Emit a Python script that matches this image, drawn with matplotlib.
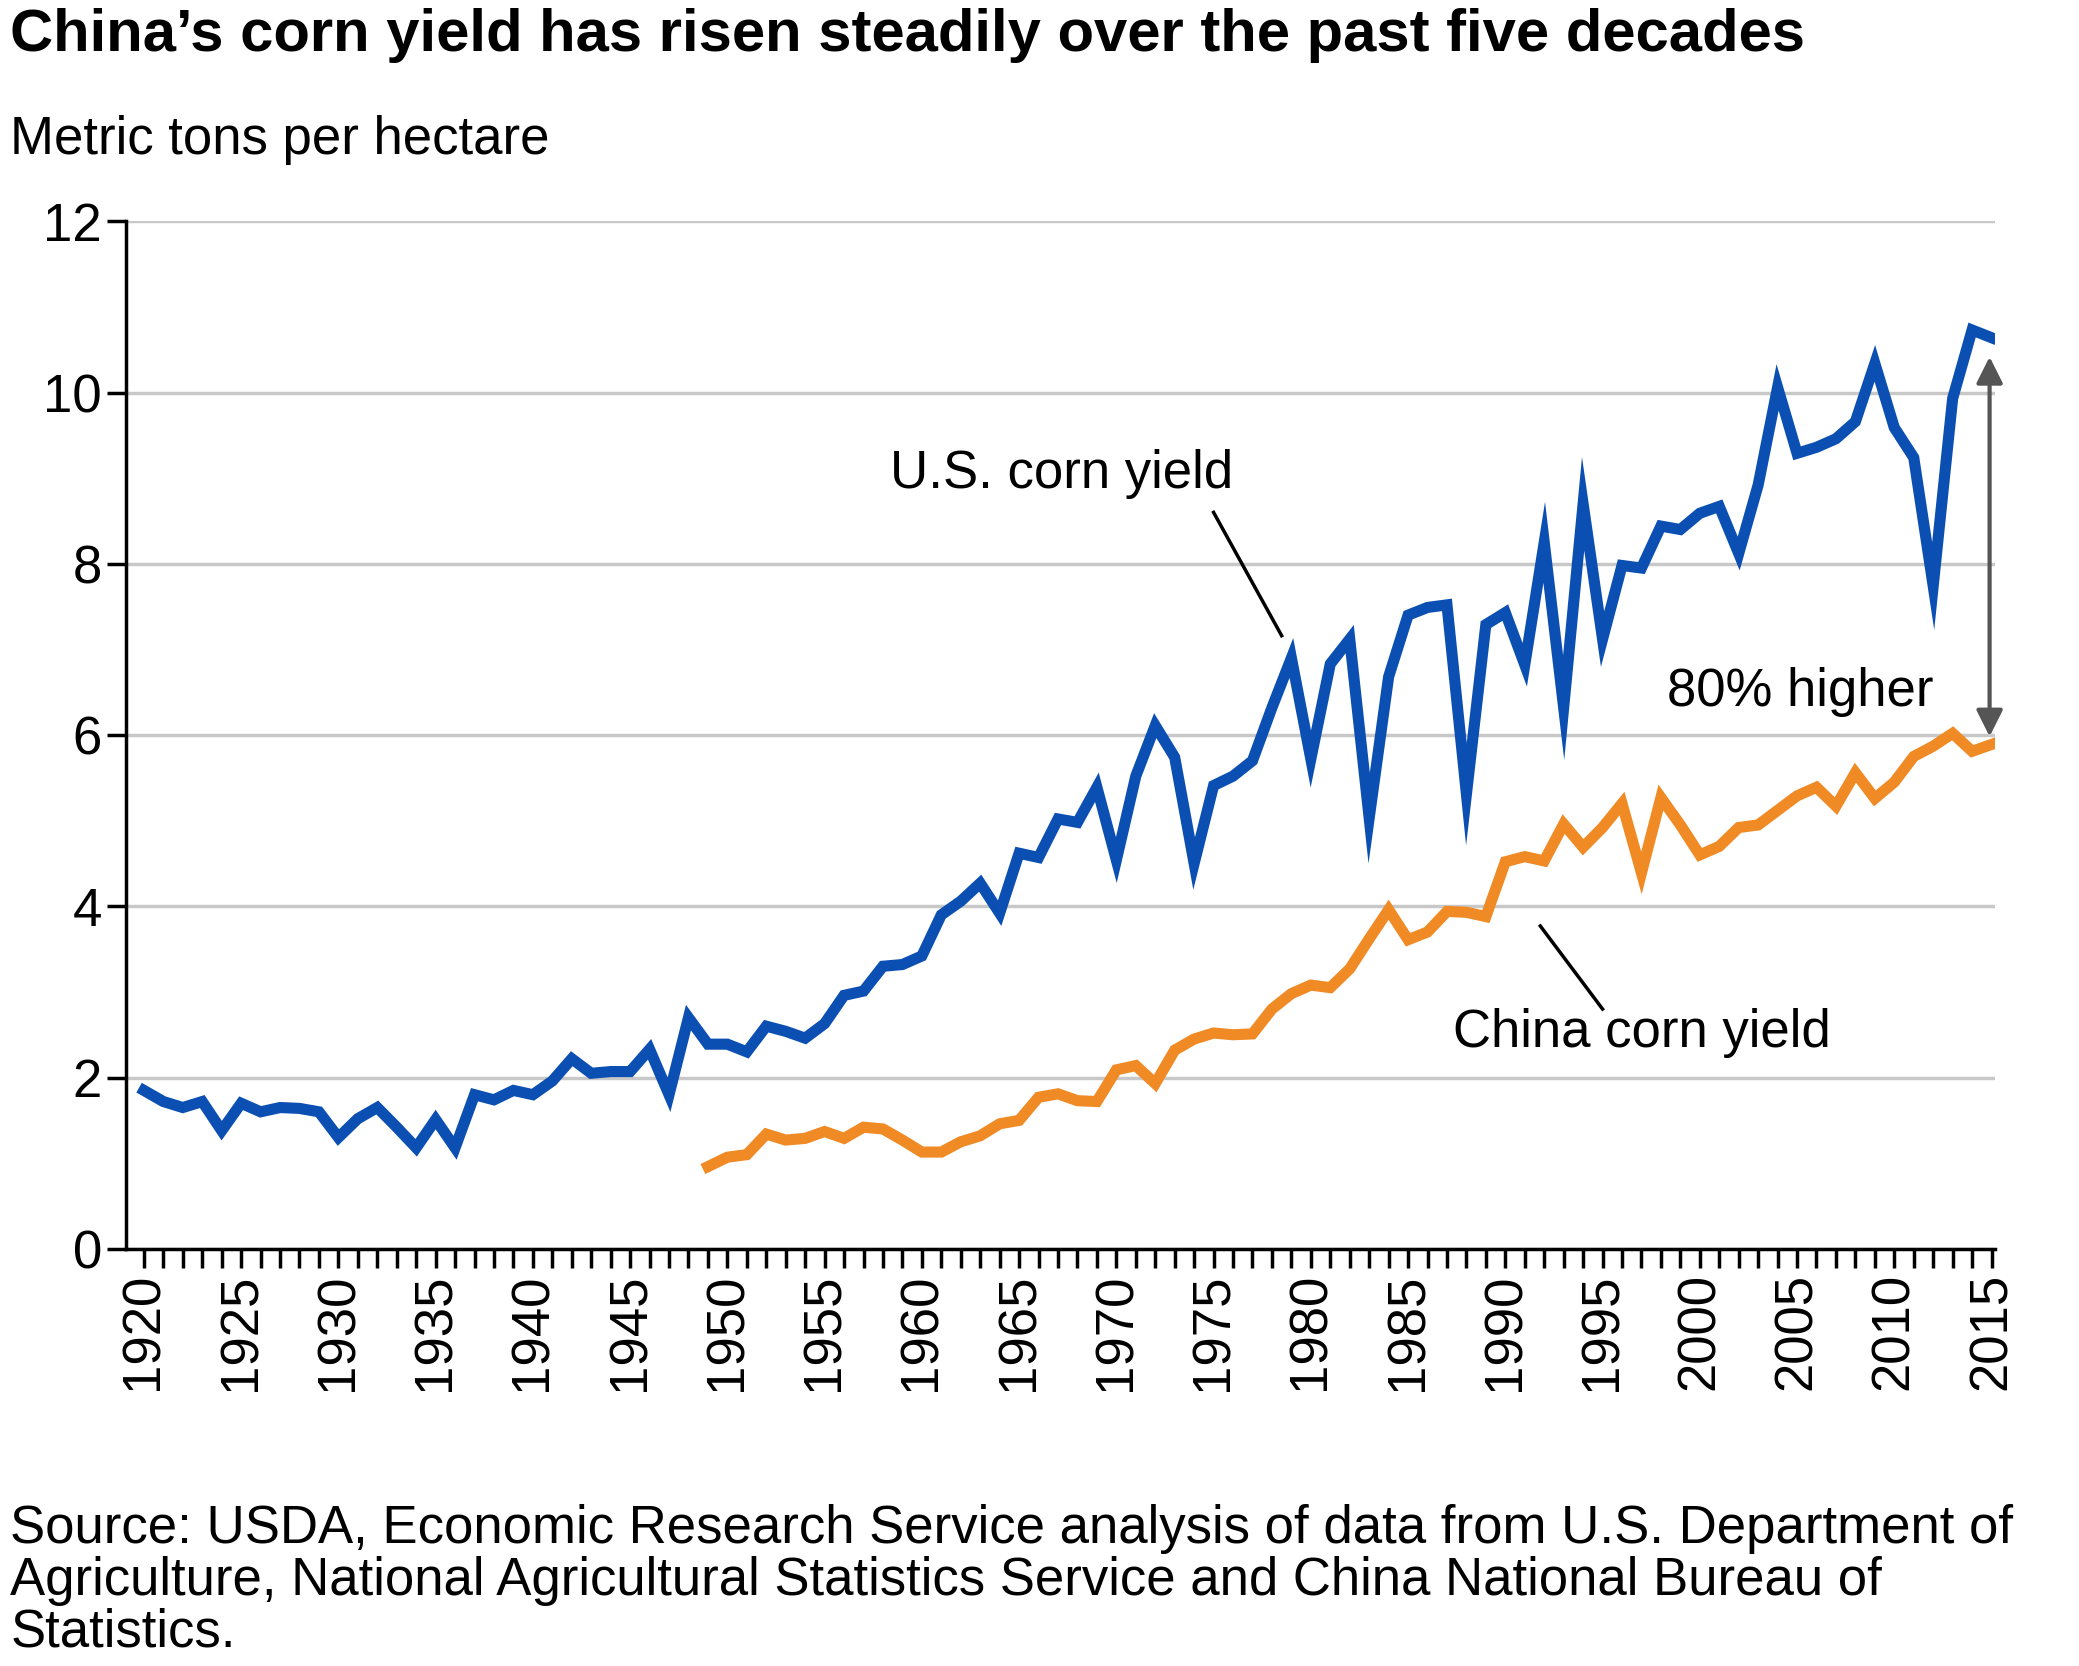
import matplotlib
matplotlib.use("Agg")
import matplotlib.pyplot as plt
import numpy as np

plt.rcParams['font.family'] = ['Liberation Sans', 'DejaVu Sans']

us_years = list(range(1920, 2016))
us_yield = [1.85,1.72,1.65,1.72,1.38,1.70,1.60,1.65,1.64,1.60,1.30,1.52,1.65,1.42,1.18,1.51,1.18,1.80,1.74,1.85,
            1.80,1.96,2.22,2.05,2.07,2.07,2.33,1.80,2.70,2.39,2.39,2.30,2.60,2.54,2.46,2.63,2.96,3.01,3.30,3.32,
            3.42,3.90,4.06,4.27,3.92,4.62,4.57,5.02,4.98,5.39,4.54,5.52,6.11,5.74,4.50,5.41,5.52,5.70,6.32,6.90,
            5.72,6.83,7.12,5.03,6.68,7.40,7.49,7.52,5.31,7.29,7.43,6.82,8.25,6.32,8.70,7.12,7.98,7.95,8.44,8.40,
            8.59,8.67,8.12,8.92,10.06,9.29,9.36,9.46,9.66,10.34,9.59,9.24,7.74,9.93,10.73,10.64]
cn_years = list(range(1949, 2016))
cn_yield = [0.96,1.07,1.10,1.34,1.27,1.29,1.37,1.29,1.42,1.40,1.27,1.13,1.13,1.25,1.32,1.46,1.50,1.77,1.81,1.73,
            1.72,2.09,2.14,1.93,2.32,2.45,2.52,2.50,2.51,2.80,2.98,3.08,3.05,3.27,3.62,3.96,3.61,3.70,3.94,3.93,
            3.88,4.52,4.58,4.53,4.96,4.69,4.92,5.20,4.39,5.27,4.95,4.60,4.70,4.92,4.95,5.12,5.29,5.39,5.17,5.56,
            5.26,5.45,5.75,5.87,6.02,5.81,5.89]
yticks = [0, 2, 4, 6, 8, 10, 12]
xlabels = list(range(1920, 2016, 5))

fig = plt.figure(figsize=(20.79, 16.66), dpi=100)
ax = fig.add_axes([0.0608, 0.2504, 0.899, 0.6168])
ax.plot(us_years, us_yield, color='#0b4fb3', lw=8, solid_joinstyle='miter')
ax.plot(cn_years, cn_yield, color='#f08a24', lw=8, solid_joinstyle='miter')
ax.set_xlim(1919.1, 2015.2)
ax.set_ylim(0, 12)
ax.set_yticks(yticks)
ax.set_yticklabels([str(v) for v in yticks])
ax.set_xticks(xlabels)
ax.set_xticklabels([str(v) for v in xlabels], rotation=90)
ax.set_xticks(us_years, minor=True)
ax.yaxis.grid(True, color='#c8c8c8', lw=2.5)
ax.set_axisbelow(True)
for s in ['top', 'right']:
    ax.spines[s].set_visible(False)
ax.spines['left'].set_linewidth(2.5)
ax.spines['bottom'].set_linewidth(2.5)
ax.tick_params(axis='both', labelsize=38, width=2.5, length=14, direction='out')
ax.tick_params(axis='x', which='minor', width=2.5, length=14)

ax.annotate('', xy=(2014.9, 5.95), xytext=(2014.9, 10.45),
            arrowprops=dict(arrowstyle='<|-|>', color='#555555', lw=3, mutation_scale=40))
ax.text(1998.3, 6.5, '80% higher', fontsize=38, ha='left', va='center')
ax.text(1976, 9.05, 'U.S. corn yield', fontsize=38, ha='right', va='center')
ax.plot([1975, 1978.5], [8.6, 7.16], color='black', lw=2.5)
ax.text(1997, 2.52, 'China corn yield', fontsize=38, ha='center', va='center')
ax.plot([1991.8, 1995], [3.77, 2.8], color='black', lw=2.5)

fig.text(0.005, 0.995, 'China\u2019s corn yield has risen steadily over the past five decades',
         fontsize=43, fontweight='bold', va='top')
fig.text(0.005, 0.916, 'Metric tons per hectare', fontsize=38, va='center')
fig.text(0.005, 0.051, 'Source: USDA, Economic Research Service analysis of data from U.S. Department of\n'
         'Agriculture, National Agricultural Statistics Service and China National Bureau of\nStatistics.',
         fontsize=38, va='center', linespacing=1.05)
fig.savefig('out.png', dpi=100)
